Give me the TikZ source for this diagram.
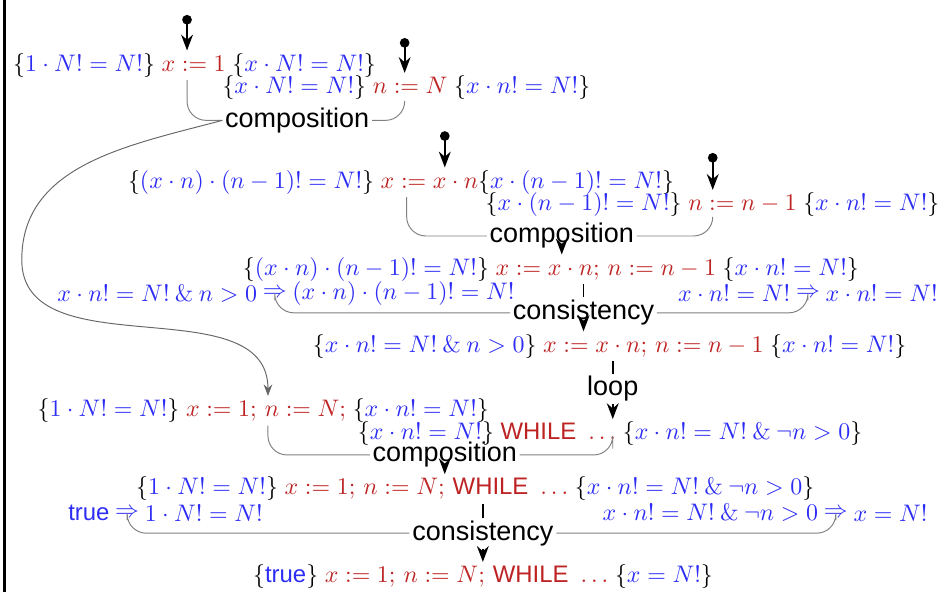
\documentclass[tikz,border=0pt]{standalone}
\usepackage{fontspec}
\setsansfont{Liberation Sans}
\usepackage{amsmath}
\usepackage{amssymb}
\usetikzlibrary{positioning,arrows.meta}
\definecolor{assertblue}{RGB}{45,45,245}
\definecolor{progred}{RGB}{190,35,35}
\newcommand{\asn}[1]{\textcolor{assertblue}{#1}}
\newcommand{\prg}[1]{\textcolor{progred}{#1}}

\begin{document}
\begin{tikzpicture}[
    stmt/.style={inner sep=1pt, anchor=west},
    impl/.style={inner sep=1pt},
    rulename/.style={font=\sffamily\fontsize{11.3pt}{13pt}\selectfont, inner sep=1pt},
    axiom/.style={{Circle[length=4pt]}-{Stealth}, thick},
    arrow/.style={-{Stealth}, thick},
    link/.style={gray, rounded corners=8pt}
]
\useasboundingbox (0,0) rectangle (13.91,-8.70);
\draw[line width=1.2pt] (0.07,0) -- (0.07,-8.70);

% assignments (axioms)
\coordinate (d1) at (2.75,-0.22);
\coordinate (d2) at (5.95,-0.56);
\coordinate (d3) at (6.54,-1.93);
\coordinate (d4) at (10.48,-2.25);
\node[stmt] (r1) at (0.15,-0.96) {$\{\asn{1\cdot N! = N!}\}\;\prg{x := 1}\;\{\asn{x\cdot N! = N!}\}$};
\node[stmt] (r2) at (3.23,-1.29) {$\{\asn{x\cdot N! = N!}\}\;\prg{n := N}\;\{\asn{x\cdot n! = N!}\}$};
\node[stmt] (r3) at (1.84,-2.68) {$\{\asn{(x\cdot n)\cdot(n-1)! = N!}\}\;\prg{x := x\cdot n}\{\asn{x\cdot(n-1)! = N!}\}$};
\node[stmt] (r4) at (7.10,-3.01) {$\{\asn{x\cdot(n-1)! = N!}\}\;\prg{n := n-1}\;\{\asn{x\cdot n! = N!}\}$};
\draw[axiom] (d1) -- (d1 |- r1.north);
\draw[axiom] (d2) -- (d2 |- r2.north);
\draw[axiom] (d3) -- (d3 |- r3.north);
\draw[axiom] (d4) -- (d4 |- r4.north);

% first composition
\node[rulename] (comp1) at (4.37,-1.77) {composition};
\draw[link] (d1 |- r1.south) |- (comp1.west);
\draw[link] (d2 |- r2.south) |- (comp1.east);

% loop body
\coordinate (k3) at (5.98,-2.2);
\node[rulename] (comp2) at (8.26,-3.47) {composition};
\draw[link] (k3 |- r3.south) |- (comp2.west);
\draw[link] (d4 |- r4.south) |- (comp2.east);
\node[stmt] (r5) at (3.53,-3.96) {$\{\asn{(x\cdot n)\cdot(n-1)! = N!}\}\;\prg{x := x\cdot n;\, n := n-1}\;\{\asn{x\cdot n! = N!}\}$};
\draw[arrow] (comp2.south) -- (comp2 |- r5.north);

\node[impl] (i1) at (4.04,-4.31) {$\asn{\Rightarrow}$};
\node[impl, left=0pt of i1] (i1l) {$\asn{x\cdot n! = N! \mathbin{\&} n > 0}$};
\node[impl, right=0pt of i1] (i1r) {$\asn{(x\cdot n)\cdot(n-1)! = N!}$};
\node[impl] (i2) at (11.88,-4.31) {$\asn{\Rightarrow}$};
\node[impl, left=0pt of i2] (i2l) {$\asn{x\cdot n! = N!}$};
\node[impl, right=0pt of i2] (i2r) {$\asn{x\cdot n! = N!}$};

\node[rulename] (cons1) at (8.58,-4.60) {consistency};
\draw[thick] (r5.south -| cons1) -- (cons1.north);
\draw[link] (i1.south) |- (cons1.west);
\draw[link] (i2.south) |- (cons1.east);
\node[stmt] (r7) at (4.56,-5.09) {$\{\asn{x\cdot n! = N! \mathbin{\&} n > 0}\}\;\prg{x := x\cdot n;\, n := n-1}\;\{\asn{x\cdot n! = N!}\}$};
\draw[arrow] (cons1.south) -- (cons1 |- r7.north);

% while loop
\node[rulename] (loop) at (9.01,-5.72) {loop};
\draw[thick] (r7.south -| loop) -- (loop.north);
\node[stmt] (r8) at (0.51,-6.04) {$\{\asn{1\cdot N! = N!}\}\;\prg{x := 1;\, n := N;}\;\{\asn{x\cdot n! = N!}\}$};
\node[stmt] (r9) at (5.22,-6.38) {$\{\asn{x\cdot n! = N!}\}\;\prg{\textsf{WHILE}\ \ldots}\;\{\asn{x\cdot n! = N! \mathbin{\&} \neg n > 0}\}$};
\draw[arrow] (loop.south) -- (loop |- r9.north);
\coordinate (bend) at (0.32,-3.82);
\coordinate (c8) at (3.94,-5.6);
\draw[gray!80!black, -{Stealth}] (comp1.west) to[out=195,in=90] (bend) to[out=-90,in=90] (c8 |- r8.north);

% second composition
\node[rulename] (comp3) at (6.54,-6.69) {composition};
\draw[link] (c8 |- r8.south) |- (comp3.west);
\draw[link] (loop |- r9.south) |- (comp3.east);
\node[stmt] (r10) at (1.96,-7.19) {$\{\asn{1\cdot N! = N!}\}\;\prg{x := 1;\, n := N;\, \textsf{WHILE}\ \ldots}\;\{\asn{x\cdot n! = N! \mathbin{\&} \neg n > 0}\}$};
\draw[arrow] (comp3.south) -- (comp3 |- r10.north);

% final consistency
\node[impl] (i3) at (1.87,-7.54) {$\asn{\Rightarrow}$};
\node[impl, left=0pt of i3] (i3l) {\asn{\textsf{true}}};
\node[impl, right=0pt of i3] (i3r) {$\asn{1\cdot N! = N!}$};
\node[impl] (i4) at (12.29,-7.54) {$\asn{\Rightarrow}$};
\node[impl, left=0pt of i4] (i4l) {$\asn{x\cdot n! = N! \mathbin{\&} \neg n > 0}$};
\node[impl, right=0pt of i4] (i4r) {$\asn{x = N!}$};
\node[rulename] (cons2) at (7.10,-7.84) {consistency};
\draw[thick] (r10.south -| cons2) -- (cons2.north);
\draw[link] (i3.south) |- (cons2.west);
\draw[link] (i4.south) |- (cons2.east);
\node[stmt] (r12) at (3.68,-8.48) {$\{\asn{\textsf{true}}\}\;\prg{x := 1;\, n := N;\, \textsf{WHILE}\ \ldots}\;\{\asn{x = N!}\}$};
\draw[arrow] (cons2.south) -- (cons2 |- r12.north);

\end{tikzpicture}
\end{document}
